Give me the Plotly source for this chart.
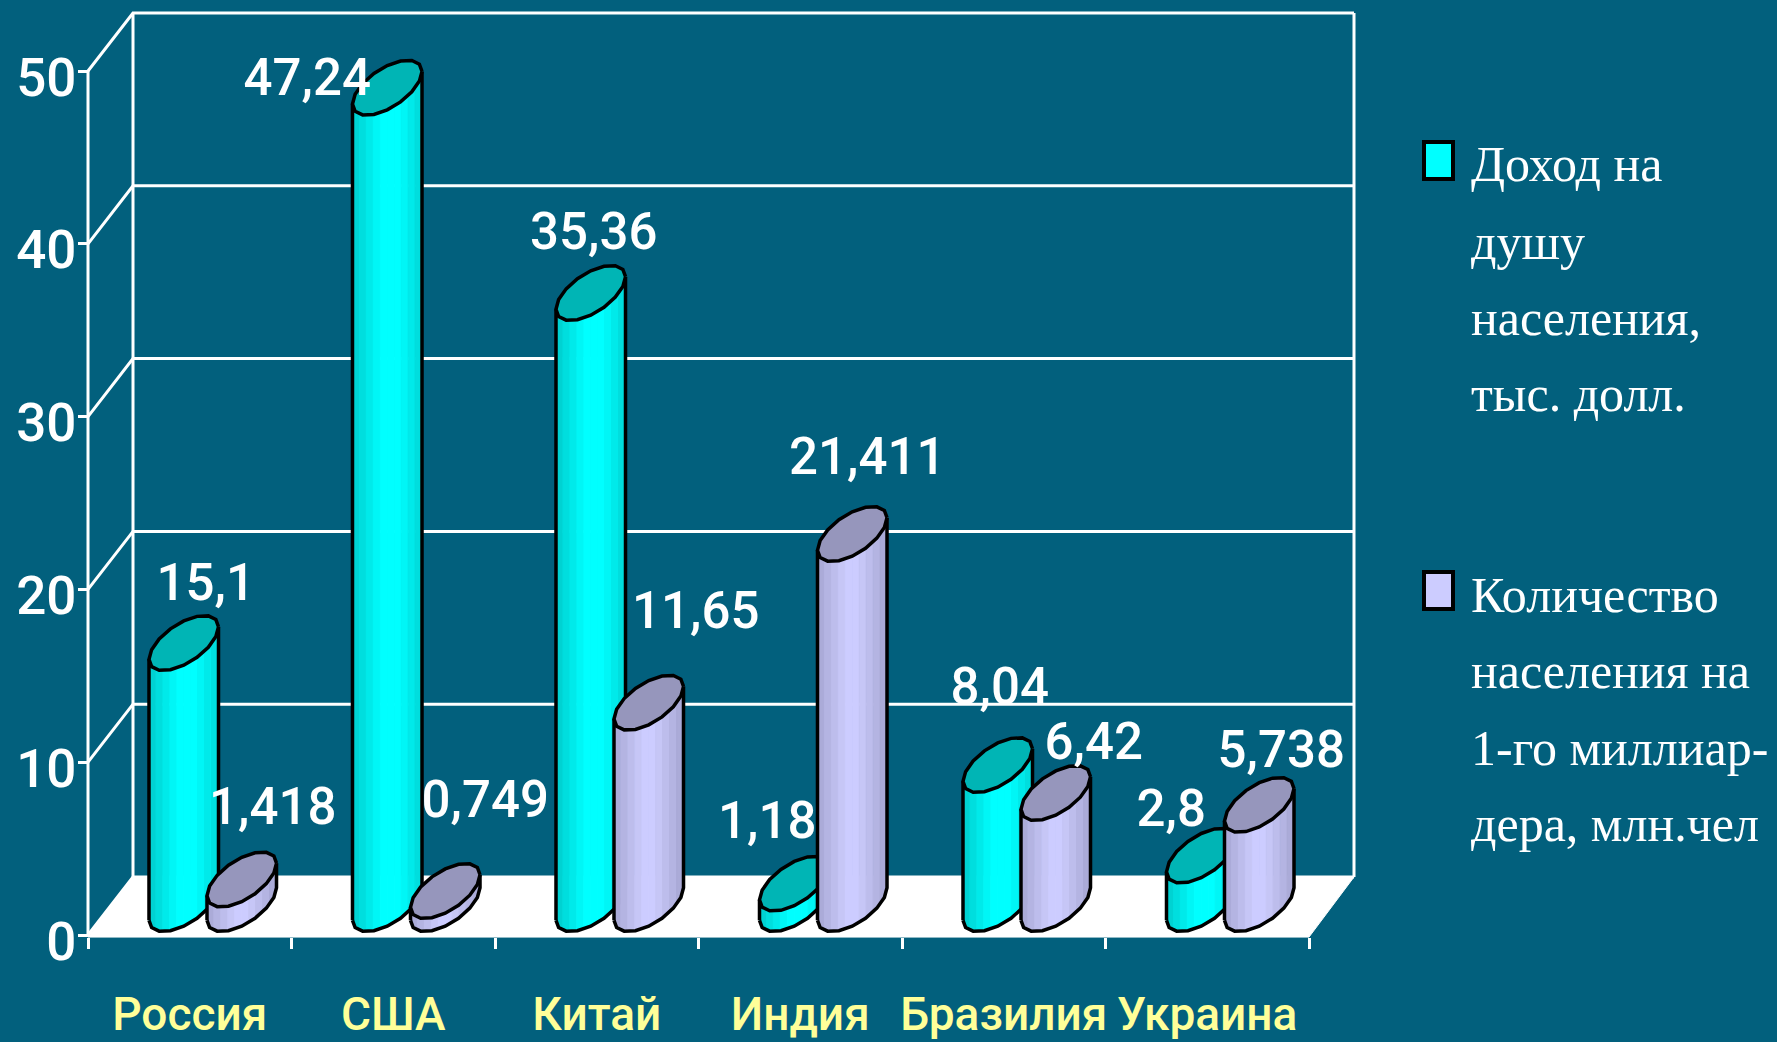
import math
import numpy as np
import plotly.graph_objects as go

# ---- data ----
categories = ["Россия", "США", "Китай", "Индия", "Бразилия", "Украина"]
income = [15.1, 47.24, 35.36, 1.18, 8.04, 2.8]
population = [1.418, 0.749, 11.65, 21.411, 6.42, 5.738]
income_labels = ["15,1", "47,24", "35,36", "1,18", "8,04", "2,8"]
population_labels = ["1,418", "0,749", "11,65", "21,411", "6,42", "5,738"]
y_ticks = [0, 10, 20, 30, 40, 50]
legend_income = ["Доход на", "душу", "населения,", "тыс. долл."]
legend_population = ["Количество", "населения на", "1-го миллиар-", "дера, млн.чел"]

# ---- style / geometry (pixels) ----
W, H = 1777, 1042
L, R, T, B = 88, 1309, 71, 935
PX_X = (R - L) / 6.0
PX_Y = (B - T) / 50.0
BG = "#02607D"
SANS = "Roboto"
DEPTH_X, DEPTH_Y = 45 / PX_X, 58 / PX_Y      # depth of the 3-D box in data units
A, Bx, C = 28.0, 20.6, 27.5                  # cap ellipse in pixels
CAP_RISE = 31 / PX_Y
OFFSETS = (-6 / PX_X, 52 / PX_X)
TH0 = math.atan2(Bx, A)
TH = TH0 + np.arange(17) * math.pi / 8
RING_X = (A * np.cos(TH) + Bx * np.sin(TH)) / PX_X
RING_Y = C * np.sin(TH) / PX_Y

CYAN_STRIPS = ["#00D2D2", "#00DEDE", "#00EAEA", "#00F6F6", "#00FFFF", "#00FFFF",
               "#00FFFF", "#00F6F6", "#00EAEA", "#00DEDE"]
LAV_STRIPS = ["#ABABD8", "#B4B4E2", "#BDBDEC", "#C6C6F6", "#CCCCFF", "#CCCCFF",
              "#C6C6F6", "#BDBDEC", "#B4B4E2", "#ABABD8"]
CAP_COLORS = ("#00B5B5", "#9696BC")

# label offsets from each bar's cap centre, in pixels
INCOME_LABEL_OFF = [(22, 56), (-80, 5), (3, 57), (-27, 58), (2, 74), (-30, 42)]
POP_LABEL_OFF = [(31, 68), (40, 87), (47, 87), (15, 73), (38, 47), (22, 51)]

fig = go.Figure()


def add_line(xs, ys, color="white", width=3):
    fig.add_trace(go.Scatter(x=xs, y=ys, mode="lines", line=dict(color=color, width=width),
                             hoverinfo="skip", showlegend=False))


x0, x1 = -0.5, 5.5
# floor
fig.add_trace(go.Scatter(
    x=[x0, x1, x1 + DEPTH_X, x0 + DEPTH_X, x0], y=[-0.12, -0.12, DEPTH_Y, DEPTH_Y, -0.12],
    mode="lines", fill="toself", fillcolor="white", line=dict(color="white", width=1),
    hoverinfo="skip", showlegend=False))
# walls and gridlines
for v in y_ticks:
    add_line([x0, x0 + DEPTH_X, x1 + DEPTH_X], [v, v + DEPTH_Y, v + DEPTH_Y])
add_line([x0 + DEPTH_X] * 2, [DEPTH_Y, 50 + DEPTH_Y])
add_line([x1 + DEPTH_X] * 2, [DEPTH_Y, 50 + DEPTH_Y])
add_line([x0, x0], [-0.12, 50])


def add_series(values, offset, strips, cap_color, name):
    chain_x, chain_y = RING_X[8:], RING_Y[8:]
    order = np.argsort(chain_x)
    chain_x, chain_y = chain_x[order], chain_y[order]
    edges = np.linspace(chain_x[0], chain_x[-1], len(strips) + 1)
    for s, col in enumerate(strips):
        xs, ys = [], []
        for i, v in enumerate(values):
            cx = i + offset
            inner = chain_x[(chain_x > edges[s]) & (chain_x < edges[s + 1])]
            sx = np.concatenate(([edges[s]], inner, [edges[s + 1]]))
            sy = np.interp(sx, chain_x, chain_y) + CAP_RISE
            xs += list(cx + sx) + list(cx + sx[::-1]) + [cx + sx[0], None]
            ys += list(sy) + list((sy + v)[::-1]) + [sy[0], None]
        fig.add_trace(go.Scatter(x=xs, y=ys, mode="lines", fill="toself", fillcolor=col,
                                 line=dict(color=col, width=1), hoverinfo="skip",
                                 showlegend=False))
    # silhouette and caps
    ox, oy, cpx, cpy = [], [], [], []
    for i, v in enumerate(values):
        cx = i + offset
        ox += list(cx + RING_X[8:]) + [cx + RING_X[16], None, cx + RING_X[8], cx + RING_X[8], None]
        oy += list(RING_Y[8:] + CAP_RISE) + [RING_Y[16] + CAP_RISE + v, None,
                                             RING_Y[8] + CAP_RISE, RING_Y[8] + CAP_RISE + v, None]
        cpx += list(cx + RING_X) + [None]
        cpy += list(RING_Y + CAP_RISE + v) + [None]
    fig.add_trace(go.Scatter(x=ox, y=oy, mode="lines", line=dict(color="black", width=3.5),
                             hoverinfo="skip", showlegend=False))
    fig.add_trace(go.Scatter(x=cpx, y=cpy, mode="lines", fill="toself", fillcolor=cap_color,
                             line=dict(color="black", width=3.5), name=name, showlegend=False))


add_series(income, OFFSETS[0], CYAN_STRIPS, CAP_COLORS[0], " ".join(legend_income))
add_series(population, OFFSETS[1], LAV_STRIPS, CAP_COLORS[1], " ".join(legend_population))


def add_labels(values, texts, offset, offs):
    xs = [i + offset + o[0] / PX_X for i, o in enumerate(offs)]
    ys = [v + CAP_RISE + o[1] / PX_Y for v, o in zip(values, offs)]
    fig.add_trace(go.Scatter(x=xs, y=ys, mode="text", text=texts, textposition="middle center",
                             textfont=dict(family=SANS, size=51, color="white", weight=500),
                             hoverinfo="skip", showlegend=False, cliponaxis=False))


add_labels(income, income_labels, OFFSETS[0], INCOME_LABEL_OFF)
add_labels(population, population_labels, OFFSETS[1], POP_LABEL_OFF)

# legend, placed in paper coordinates (the plot area fills the page)
def px(x): return x / W
def py(y): return 1 - y / H

annots, shapes = [], []
for lines, ys in ((legend_income, [164, 242, 318, 394]), (legend_population, [595, 671, 748, 824])):
    for t, y in zip(lines, ys):
        annots.append(dict(xref="paper", yref="paper", x=px(1469), y=py(y), text=t, showarrow=False,
                           xanchor="left", yanchor="middle",
                           font=dict(family="Liberation Serif", size=50, color="white")))
for col, (y0, y1) in (("#00FFFF", (142, 179)), ("#CCCCFF", (572, 609))):
    shapes.append(dict(type="rect", xref="paper", yref="paper", x0=px(1424), x1=px(1453),
                       y0=py(y0), y1=py(y1), fillcolor=col, line=dict(color="black", width=4)))

fig.update_layout(
    width=W, height=H, autosize=False, showlegend=False,
    margin=dict(l=0, r=0, t=0, b=0, pad=0),
    paper_bgcolor=BG, plot_bgcolor=BG,
    annotations=annots, shapes=shapes,
    xaxis=dict(range=[x0 - L / PX_X, x0 + (W - L) / PX_X], anchor="free", position=(H - B - 2) / H,
               tickmode="array", tickvals=list(range(6)), ticktext=categories, tickangle=0,
               showgrid=False, zeroline=False, showline=False,
               ticks="", ticklabelstandoff=46, automargin=False,
               tickfont=dict(family=SANS, size=46, color="#FFFF99", weight=500),
               minor=dict(tickmode="array", tickvals=[x0 + i for i in range(7)], ticks="outside",
                          ticklen=11, tickwidth=3, tickcolor="white", showgrid=False)),
    yaxis=dict(range=[-(H - B) / PX_Y, B / PX_Y], anchor="free", position=L / W,
               tickmode="array", tickvals=y_ticks, ticktext=[str(v) for v in y_ticks],
               showgrid=False, zeroline=False, showline=False,
               ticks="outside", ticklen=10, tickwidth=3, tickcolor="white", automargin=False,
               ticklabelstandoff=-9, ticklabelshift=6,
               tickfont=dict(family=SANS, size=53, color="white", weight=500)),
)

fig.write_html("out.html", config={"displayModeBar": False},
               post_script="document.body.style.margin='0';document.body.style.overflow='hidden';")
